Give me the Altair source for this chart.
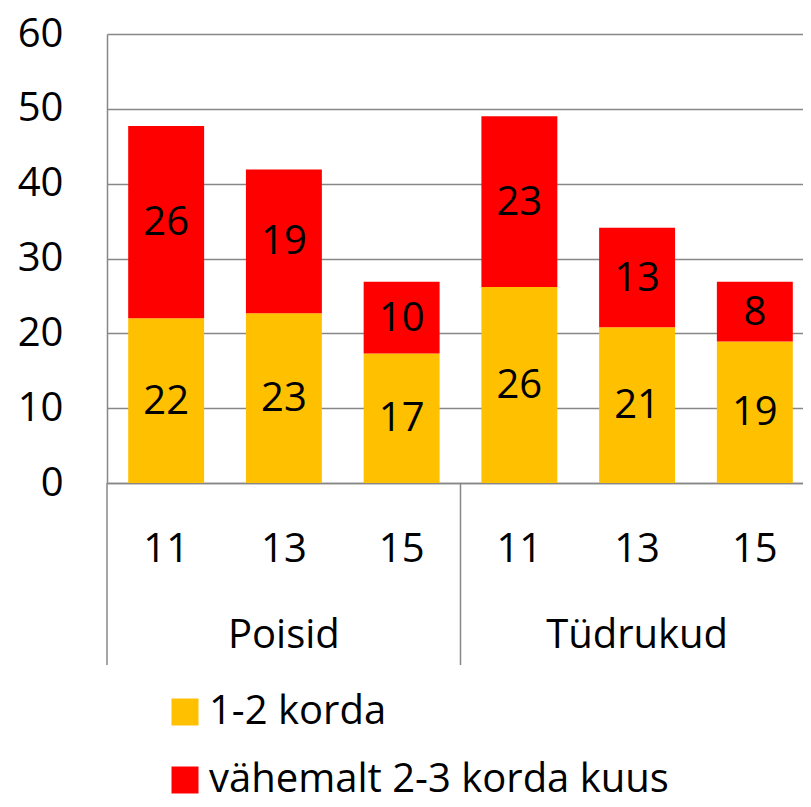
import altair as alt
import pandas as pd

groups = ["Poisid", "Poisid", "Poisid", "Tüdrukud", "Tüdrukud", "Tüdrukud"]
ages = ["11", "13", "15", "11", "13", "15"]
series = ["1-2 korda", "vähemalt 2-3 korda kuus"]
low = [22.0, 22.7, 17.3, 26.2, 20.8, 18.9]      # 1-2 korda
high = [25.7, 19.2, 9.6, 22.8, 13.3, 8.0]       # vähemalt 2-3 korda kuus
low_labels = ["22", "23", "17", "26", "21", "19"]
high_labels = ["26", "19", "10", "23", "13", "8"]
group_names = ["Poisid", "Tüdrukud"]
group_mid_age = ["13", "13"]
y_ticks = [0, 10, 20, 30, 40, 50, 60]

keys = [f"{g}|{a}" for g, a in zip(groups, ages)]

rows = []
for k, lo, hi, ll, hl in zip(keys, low, high, low_labels, high_labels):
    rows.append({"key": k, "series": series[0], "value": lo, "mid": lo / 2, "label": ll})
    rows.append({"key": k, "series": series[1], "value": hi, "mid": lo + hi / 2, "label": hl})
df = pd.DataFrame(rows)
df["order"] = df["series"].map({series[0]: 0, series[1]: 1})

gdf = pd.DataFrame({"key": [f"{g}|{a}" for g, a in zip(group_names, group_mid_age)],
                    "name": group_names})

W, H = 696, 449
XR = 707  # full band range; the right part is cut off at the page edge as in the reference
FONT = "Open Sans"
GRAY = "#878787"

xscale = alt.Scale(domain=keys, range=[0, XR], paddingInner=0.355, paddingOuter=0.18)
yscale = alt.Scale(domain=[0, 60], nice=False)

bars = alt.Chart(df).mark_bar().encode(
    x=alt.X("key:N", scale=xscale, sort=keys,
            axis=alt.Axis(title=None, labelExpr="split(datum.label, '|')[1]",
                          labelFontSize=40, labelColor="black", labelAngle=0,
                          ticks=False, tickSize=0, labelPadding=46,
                          domain=True, domainColor=GRAY, domainWidth=1.5,
                          labelBaseline="top")),
    y=alt.Y("value:Q", stack="zero", scale=yscale,
            axis=alt.Axis(title=None, values=y_ticks, grid=True, gridColor=GRAY,
                          gridWidth=1.5, ticks=False, tickSize=0, labelPadding=44,
                          labelFontSize=40, labelColor="black",
                          domain=True, domainColor=GRAY, domainWidth=1.5)),
    color=alt.Color("series:N", scale=alt.Scale(domain=series, range=["#FFC000", "#FF0000"]),
                    legend=alt.Legend(title=None, orient="none", legendX=58, legendY=658,
                                      direction="vertical", symbolType="square",
                                      symbolSize=729, symbolStrokeWidth=0,
                                      labelFontSize=40, labelLimit=700, labelOffset=4,
                                      rowPadding=28, padding=0, labelColor="black")),
    order=alt.Order("order:Q"),
)

labels = alt.Chart(df).mark_text(fontSize=40, baseline="middle", color="black", dy=1).encode(
    x=alt.X("key:N", scale=xscale, sort=keys),
    y=alt.Y("mid:Q", scale=yscale),
    text="label:N",
)

group_text = alt.Chart(gdf).mark_text(fontSize=40, baseline="alphabetic", color="black").encode(
    x=alt.X("key:N", scale=xscale, sort=keys),
    y=alt.value(H + 165),
    text="name:N",
)

sep_df = pd.DataFrame({"pos": ["left", "mid"]})
sep_left = alt.Chart(sep_df.iloc[:1]).mark_rule(color=GRAY, strokeWidth=1.5).encode(
    x=alt.value(0), y=alt.value(H), y2=alt.value(H + 182))
sep_mid = alt.Chart(sep_df.iloc[1:]).mark_rule(color=GRAY, strokeWidth=1.5).encode(
    x=alt.value(XR / 2), y=alt.value(H), y2=alt.value(H + 182))

chart = alt.layer(bars, labels, group_text, sep_left, sep_mid).properties(
    width=W, height=H,
    autosize=alt.AutoSizeParams(type="none"),
    padding={"left": 99, "top": 26, "right": 0, "bottom": 315},
).configure(font=FONT).configure_view(stroke=None)

chart.save("out.html", embed_options={"renderer": "svg", "actions": False})
